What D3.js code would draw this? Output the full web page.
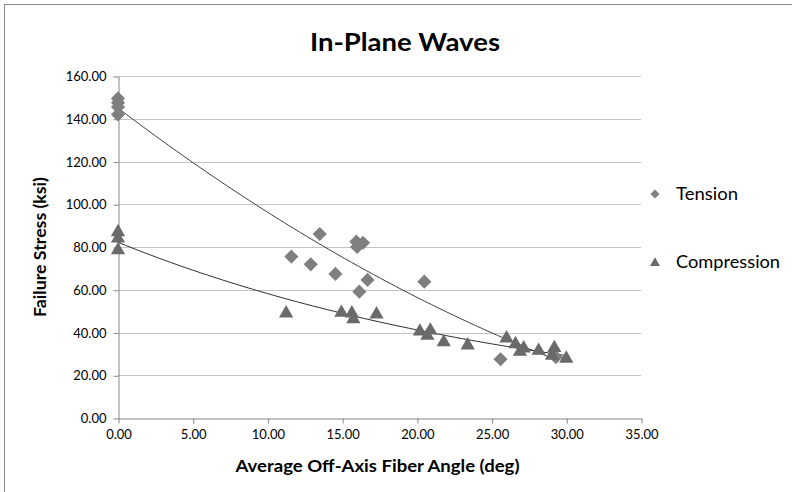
<!DOCTYPE html>
<html><head><meta charset="utf-8">
<script src="https://cdn.jsdelivr.net/npm/d3@7"></script>
<style>body{margin:0;background:#fff}svg{display:block}text{font-family:Lato,"Open Sans",sans-serif}</style>
</head><body><svg id="c" width="792" height="492"></svg>
<script>
// ---- data ----
const title = "In-Plane Waves";
const xTitle = "Average Off-Axis Fiber Angle (deg)";
const yTitle = "Failure Stress (ksi)";
const seriesNames = ["Tension", "Compression"];
const xTicks = [0, 5, 10, 15, 20, 25, 30, 35];
const yTicks = [0, 20, 40, 60, 80, 100, 120, 140, 160];
const tensionX = [0, 0, 0, 0, 11.6, 12.9, 13.5, 14.55, 15.95, 16.4, 16.0, 16.7, 16.15, 20.5, 25.6, 29.3];
const tensionY = [149.5, 147.5, 145.5, 142, 75.5, 71.9, 86.1, 67.4, 82.5, 82.0, 80.0, 64.6, 59.1, 63.8, 27.5, 28.5];
const compX = [0, 0, 0, 11.25, 14.95, 15.65, 15.75, 17.3, 20.2, 20.7, 20.9, 21.8, 23.4, 26.0, 26.6, 26.9, 27.15, 28.15, 29.2, 29.05, 30.0];
const compY = [87, 84, 78.5, 49.0, 49.3, 49.0, 46.2, 48.5, 40.5, 38.5, 41.0, 35.5, 34.0, 37.3, 34.6, 31.0, 32.6, 31.5, 32.8, 29.2, 27.8];
// trend lines (as shown in the chart): tension poly-2, compression exponential
const tensionTrend = [145, -5.31, 0.0442];   // a + b x + c x^2
const compTrend = [82.2, -0.0345];           // a * exp(b x)

// ---- drawing ----
const svg = d3.select("#c");
const x = d3.scaleLinear().domain([0, 35]).range([118, 641]);
const y = d3.scaleLinear().domain([0, 160]).range([418, 76]);

svg.append("rect").attr("x", 4.5).attr("y", 4.5).attr("width", 800).attr("height", 500)
  .attr("fill", "none").attr("stroke", "#8c8c8c").attr("stroke-width", 1);

// gridlines
svg.append("g").selectAll("line").data(yTicks.filter(d => d > 0)).join("line")
  .attr("x1", x(0)).attr("x2", x(35))
  .attr("y1", d => Math.round(y(d)) + 0.5).attr("y2", d => Math.round(y(d)) + 0.5)
  .attr("stroke", "#c4c4c4").attr("stroke-width", 1);

const fmt = d3.format(".2f");
const yAxis = svg.append("g").attr("transform", `translate(${x(0) + 0.5},0.5)`)
  .call(d3.axisLeft(y).tickValues(yTicks).tickFormat(fmt).tickSizeInner(5).tickSizeOuter(0).tickPadding(7));
const xAxis = svg.append("g").attr("transform", `translate(0.5,${Math.round(y(0)) + 0.5})`)
  .call(d3.axisBottom(x).tickValues(xTicks).tickFormat(fmt).tickSizeInner(5).tickSizeOuter(0).tickPadding(6));
[yAxis, xAxis].forEach(g => {
  g.selectAll("path,line").attr("stroke", "#868686");
  g.selectAll("text").attr("font-size", 13).attr("fill", "#000").style("font-family", "Lato, sans-serif");
});

// trend lines
const tFun = v => tensionTrend[0] + tensionTrend[1] * v + tensionTrend[2] * v * v;
const cFun = v => compTrend[0] * Math.exp(compTrend[1] * v);
const line = d3.line().x(d => x(d[0])).y(d => y(d[1]));
const tMax = d3.max(tensionX), cMax = d3.max(compX);
svg.append("path").attr("d", line(d3.range(0, 61).map(i => { const v = tMax * i / 60; return [v, tFun(v)]; })))
  .attr("fill", "none").attr("stroke", "#404040").attr("stroke-width", 1);
svg.append("path").attr("d", line(d3.range(0, 61).map(i => { const v = cMax * i / 60; return [v, cFun(v)]; })))
  .attr("fill", "none").attr("stroke", "#303030").attr("stroke-width", 1);

// markers
const diamond = d3.symbol().type(d3.symbolSquare).size(100);
const tri = d3.symbol().type(d3.symbolTriangle).size(88);
svg.append("g").selectAll("path").data(tensionX.map((v, i) => [v, tensionY[i]])).join("path")
  .attr("d", diamond).attr("transform", d => `translate(${x(d[0])},${y(d[1])}) rotate(45)`)
  .attr("fill", "#7f7f7f");
svg.append("g").selectAll("path").data(compX.map((v, i) => [v, compY[i]])).join("path")
  .attr("d", tri).attr("transform", d => `translate(${x(d[0])},${y(d[1])})`)
  .attr("fill", "#6a6a6a");

// legend
const leg = svg.append("g");
leg.append("path").attr("d", d3.symbol().type(d3.symbolSquare).size(42)).attr("transform", "translate(655,194) rotate(45)").attr("fill", "#7f7f7f");
leg.append("path").attr("d", d3.symbol().type(d3.symbolTriangle).size(44)).attr("transform", "translate(655,263)").attr("fill", "#6a6a6a");
leg.append("text").attr("x", 676).attr("y", 200).attr("font-size", 17).attr("textLength", 62).attr("lengthAdjust", "spacingAndGlyphs").text(seriesNames[0]);
leg.append("text").attr("x", 676).attr("y", 268).attr("font-size", 17).attr("textLength", 104).attr("lengthAdjust", "spacingAndGlyphs").text(seriesNames[1]);

// titles
svg.append("text").attr("x", 405).attr("y", 51).attr("text-anchor", "middle").attr("font-size", 25).attr("font-weight", "bold").attr("textLength", 190).attr("lengthAdjust", "spacingAndGlyphs").text(title);
svg.append("text").attr("x", 377.5).attr("y", 472).attr("text-anchor", "middle").attr("font-size", 17).attr("font-weight", "bold").attr("textLength", 284).attr("lengthAdjust", "spacingAndGlyphs").text(xTitle);
svg.append("text").attr("transform", "translate(46,247) rotate(-90)").attr("text-anchor", "middle").attr("font-size", 17).attr("font-weight", "bold").attr("textLength", 140).attr("lengthAdjust", "spacingAndGlyphs").text(yTitle);
</script></body></html>
